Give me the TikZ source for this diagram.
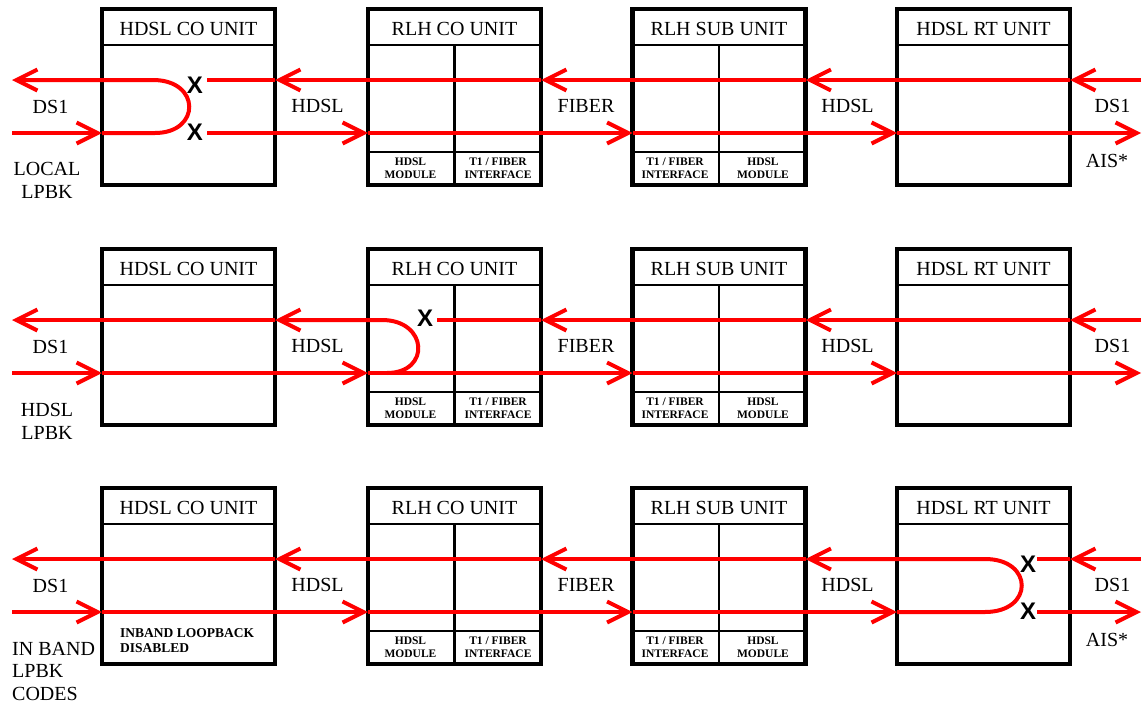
\documentclass[tikz,border=0pt]{standalone}
\usepackage{fontspec}
\setmainfont{Liberation Serif}
\newfontfamily\xsans{Liberation Sans}
\usetikzlibrary{arrows.meta}

\tikzset{
  unitbox/.style={draw, line width=4.5pt, minimum width=173pt, minimum height=176pt,
                  inner sep=0pt, outer sep=0pt},
  headline/.style={draw, line width=1.2pt},
  divline/.style={draw, line width=2.5pt},
  unittitle/.style={font=\fontsize{20}{23}\selectfont, inner sep=0pt},
  modlabel/.style={font=\fontsize{11.5}{13}\selectfont\bfseries, align=center, inner sep=0pt},
  siglabel/.style={font=\fontsize{20}{23}\selectfont, inner sep=0pt},
  sig/.style={draw=red, line width=4pt},
  sigarrow/.style={sig, -{Straight Barb[length=21pt,width=21pt]}},
  xmark/.style={font=\xsans\bfseries\fontsize{24}{24}\selectfont, inner sep=0pt},
}

% Four units of one row, their inner partitions and the line names
\newcommand\unitrow{%
  \node[unitbox] (co)  at (188.5,97) {};
  \node[unitbox] (rlh) at (454.5,97) {};
  \node[unitbox] (sub) at (719,97)   {};
  \node[unitbox] (rt)  at (983.5,97) {};
  \coordinate (top)  at (0,80);
  \coordinate (bot)  at (0,133);
  \coordinate (lend) at (12,0);
  \coordinate (rend) at (1141,0);
  \foreach \u/\ttl in {co/HDSL CO UNIT,rlh/RLH CO UNIT,sub/RLH SUB UNIT,rt/HDSL RT UNIT}{%
    \draw[headline] ([yshift=-36pt]\u.north west) -- ([yshift=-36pt]\u.north east);
    \node[unittitle] (\u-title) at ([yshift=-20pt]\u.north) {\ttl};
  }
  \foreach \u in {rlh,sub}{%
    \draw[divline] ([yshift=-36pt]\u.north) -- (\u.south);
    \draw[headline] ([yshift=-143pt]\u.north west) -- ([yshift=-143pt]\u.north east);
  }
  \node[modlabel] (rlh-m1) at (410.5,168.5) {HDSL\\MODULE};
  \node[modlabel] (rlh-m2) at (498,168.5)   {T1 / FIBER\\INTERFACE};
  \node[modlabel] (sub-m1) at (675,168.5)   {T1 / FIBER\\INTERFACE};
  \node[modlabel] (sub-m2) at (763,168.5)   {HDSL\\MODULE};
  \node[siglabel] (ds1-l)  at (50.5,106.5)  {DS1};
  \node[siglabel] (hdsl-l) at (317.5,106)   {HDSL};
  \node[siglabel] (fiber)  at (586,106)     {FIBER};
  \node[siglabel] (hdsl-r) at (847.5,106)   {HDSL};
  \node[siglabel] (ds1-r)  at (1112.5,106)  {DS1};
}

\begin{document}
\begin{tikzpicture}[x=1pt, y=-1pt]
\useasboundingbox (0,0) rectangle (1143,704);

% ---------- local loopback in the HDSL CO unit ----------
\begin{scope}[name prefix=a-]
  \unitrow
  \coordinate (cut-t)  at (207,80);
  \coordinate (cut-b)  at (207,133);
  \coordinate (loop-t) at (153,80);
  \coordinate (loop-b) at (155,133);
  \draw[sigarrow] (rend |- top) -- (rt.east |- top);
  \draw[sigarrow] (rt.east |- top) -- (sub.east |- top);
  \draw[sigarrow] (sub.east |- top) -- (rlh.east |- top);
  \draw[sigarrow] (rlh.east |- top) -- (co.east |- top);
  \draw[sig] (co.east |- top) -- (cut-t);
  \draw[sigarrow] (lend |- bot) -- (co.west |- bot);
  \draw[sigarrow] (co.west |- bot) -- (loop-b)
        .. controls +(46,0) and +(48,0) .. (loop-t) -- (lend |- top);
  \draw[sigarrow] (cut-b) -- (rlh.west |- bot);
  \draw[sigarrow] (rlh.west |- bot) -- (sub.west |- bot);
  \draw[sigarrow] (sub.west |- bot) -- (rt.west |- bot);
  \draw[sigarrow] (rt.west |- bot) -- (rend |- bot);
  \node[xmark] (x-t) at (195,85) {X};
  \node[xmark] (x-b) at (195,132.5) {X};
  \node[siglabel, align=center] (mode) at (47,180.5) {LOCAL\\LPBK};
  \node[siglabel] (ais) at (1107,161) {AIS*};
\end{scope}

% ---------- HDSL loopback in the RLH CO unit ----------
\begin{scope}[yshift=-240pt, name prefix=b-]
  \unitrow
  \coordinate (cut-t)  at (437,80);
  \coordinate (loop-t) at (382,80);
  \coordinate (loop-b) at (387,133);
  \draw[sigarrow] (rend |- top) -- (rt.east |- top);
  \draw[sigarrow] (rt.east |- top) -- (sub.east |- top);
  \draw[sigarrow] (sub.east |- top) -- (rlh.east |- top);
  \draw[sig] (rlh.east |- top) -- (cut-t);
  \draw[sigarrow] (loop-b) .. controls +(44,0) and +(46,0) .. (loop-t) -- (co.east |- top);
  \draw[sigarrow] (co.east |- top) -- (lend |- top);
  \draw[sigarrow] (lend |- bot) -- (co.west |- bot);
  \draw[sigarrow] (co.west |- bot) -- (rlh.west |- bot);
  \draw[sigarrow] (rlh.west |- bot) -- (sub.west |- bot);
  \draw[sigarrow] (sub.west |- bot) -- (rt.west |- bot);
  \draw[sigarrow] (rt.west |- bot) -- (rend |- bot);
  \node[xmark] (x-t) at (425,78.5) {X};
  \node[siglabel, align=center] (mode) at (47,181.5) {HDSL\\LPBK};
\end{scope}

% ---------- loopback in the HDSL RT unit, in-band codes disabled ----------
\begin{scope}[yshift=-479pt, name prefix=c-]
  \unitrow
  \coordinate (cut-t)  at (1037,80);
  \coordinate (cut-b)  at (1037,133);
  \coordinate (loop-t) at (985,80);
  \coordinate (loop-b) at (985,133);
  \draw[sigarrow] (rend |- top) -- (rt.east |- top);
  \draw[sig] (rt.east |- top) -- (cut-t);
  \draw[sigarrow] (rt.west |- bot) -- (loop-b)
        .. controls +(49,0) and +(49,0) .. (loop-t) -- (sub.east |- top);
  \draw[sigarrow] (sub.east |- top) -- (rlh.east |- top);
  \draw[sigarrow] (rlh.east |- top) -- (co.east |- top);
  \draw[sigarrow] (co.east |- top) -- (lend |- top);
  \draw[sigarrow] (lend |- bot) -- (co.west |- bot);
  \draw[sigarrow] (co.west |- bot) -- (rlh.west |- bot);
  \draw[sigarrow] (rlh.west |- bot) -- (sub.west |- bot);
  \draw[sigarrow] (sub.west |- bot) -- (rt.west |- bot);
  \draw[sigarrow] (cut-b) -- (rend |- bot);
  \node[xmark] (x-t) at (1028,85) {X};
  \node[xmark] (x-b) at (1028,132) {X};
  \node[font=\fontsize{13.5}{15}\selectfont\bfseries, align=left, inner sep=0pt,
        anchor=north west] (inband) at (120,149) {INBAND LOOPBACK\\DISABLED};
  \node[siglabel, align=left, anchor=north west, font=\fontsize{20}{22.5}\selectfont]
        (mode) at (12,163) {IN BAND\\LPBK\\CODES};
  \node[siglabel] (ais) at (1107,161) {AIS*};
\end{scope}
\end{tikzpicture}
\end{document}
